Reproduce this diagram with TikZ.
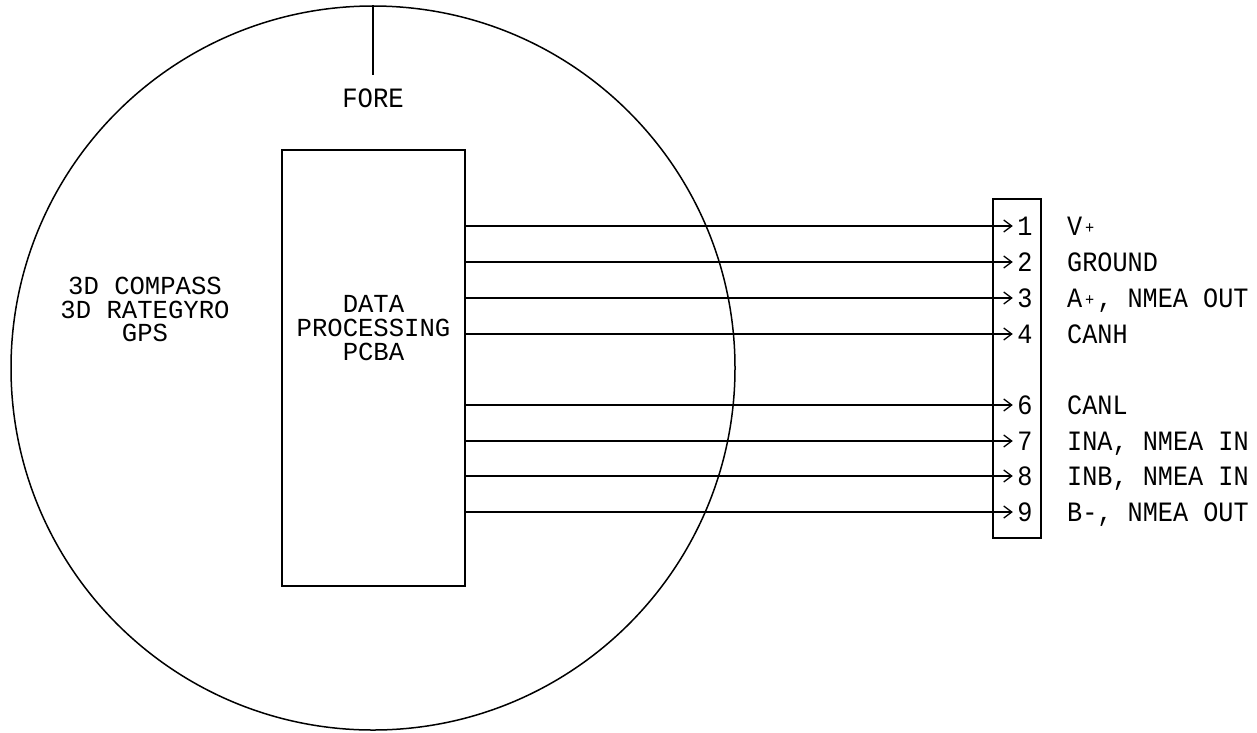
\documentclass[tikz,border=0pt]{standalone}
\usepackage{fontspec}
\setmainfont{Liberation Mono}
\newfontfamily\cadblock[FakeStretch=0.985]{Liberation Mono}
\newfontfamily\cadfore[FakeStretch=0.915]{Liberation Mono}
\newfontfamily\cadnarrow[FakeStretch=0.9]{Liberation Mono}
\usetikzlibrary{arrows.meta}
\newcommand{\smallplus}{\makebox[15pt]{\fontsize{17}{17}\selectfont\raisebox{2pt}{+}}}
\tikzset{
  wire/.style={line width=1.5pt,black},
  feed/.style={wire,-{Straight Barb[length=8pt,width=12pt,line width=1.3pt]}},
  cad/.style={font=\cadblock\fontsize{26}{23.6}\selectfont,inner sep=0pt,align=center,text=black},
  forelab/.style={font=\cadfore\fontsize{28}{28}\selectfont,inner sep=0pt,text=black},
  pin/.style={font=\cadnarrow\fontsize{28}{28}\selectfont,inner sep=0pt,text=black,minimum width=24pt,text height=18pt,text depth=0pt,anchor=center},
  lab/.style={font=\cadnarrow\fontsize{28}{28}\selectfont,inner sep=0pt,text=black,anchor=west,align=left,text height=18pt,text depth=0pt}
}
\begin{document}
\begin{tikzpicture}[x=1pt,y=-1pt]
\useasboundingbox (0,0) rectangle (1257,732);
\node[wire,draw,circle,minimum size=724pt,inner sep=0pt] (dome) at (373,368) {};
\coordinate (foreend) at (373,75);
\draw[wire] (dome.north) -- (foreend);
\node[forelab] (fore) at (373,98) {FORE};
\node[cad] (sens) at (145,309.5) {3D COMPASS\\3D RATEGYRO\\GPS};
\node[wire,draw,minimum width=183pt,minimum height=436pt,inner sep=0pt] (pcb) at (373.5,368) {};
\node[cad] (pcbt) at (373.5,328) {DATA\\PROCESSING\\PCBA};
\node[wire,draw,minimum width=48pt,minimum height=339pt,inner sep=0pt] (conn) at (1017,368.5) {};
\foreach \n/\y/\t in {1/226/{V\smallplus},2/262/{GROUND},3/298/{A\smallplus, NMEA OUT},4/334/{CANH},6/405/{CANL},7/441/{INA, NMEA IN},8/476/{INB, NMEA IN},9/512/{B-, NMEA OUT}}{
  \node[pin] (p\n) at (1025,\y) {\n};
  \node[lab] (l\n) at (1067,\y) {\t};
  \draw[feed] (pcb.east |- p\n) -- (p\n.west);
}
\end{tikzpicture}
\end{document}
